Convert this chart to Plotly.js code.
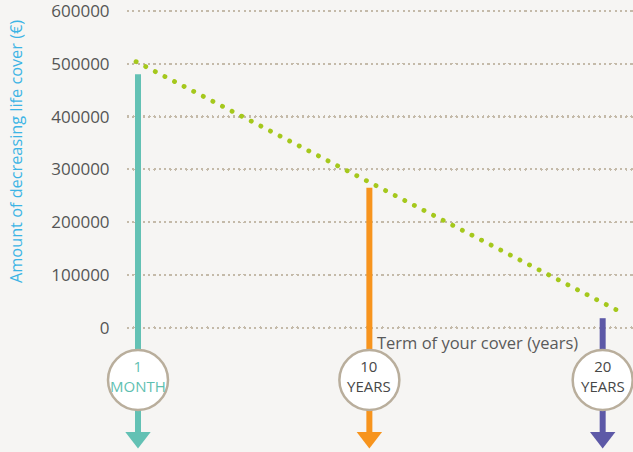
<!DOCTYPE html>
<html>
<head>
<meta charset="utf-8">
<script src="https://cdn.plot.ly/plotly-3.0.1.min.js"></script>
<style>
  html, body { margin: 0; padding: 0; background: #f6f5f3; }
  #chart { width: 633px; height: 452px; }
  .scatterlayer .trace:first-child .js-line { stroke-linecap: round; }
  .gridlayer .ygrid { stroke-linecap: round; }
</style>
</head>
<body>
<div id="chart"></div>
<script>
// ---- data ----
const termYears   = [1 / 12, 10, 20];
const termNumbers = ['1', '10', '20'];
const termUnits   = ['MONTH', 'YEARS', 'YEARS'];
const termColors  = ['#63c1b4', '#f7941d', '#5d59a7'];
const coverAtTerm = [480000, 265000, 18000];

const lineYears  = [0, 20.6];
const lineCover  = [504000, 33500];

const yTicks = [0, 100000, 200000, 300000, 400000, 500000, 600000];
const yTickText = yTicks.map(String);

// ---- layout helpers (pixel -> data for decorative elements) ----
const Y_TOP = 620840, Y_BOT = -235500, H = 452;
const pxToY = px => Y_TOP - px * (Y_TOP - Y_BOT) / H;
const circleY = pxToY(380);
const shaftEndY = pxToY(434);
const headY = pxToY(437.5);

const traces = [];
// green decreasing cover line (first trace -> round caps via CSS)
traces.push({
  x: lineYears, y: lineCover, mode: 'lines', type: 'scatter',
  line: { color: '#a5c81c', width: 4.8, dash: '0.1px,10.7px' },
  hoverinfo: 'skip', cliponaxis: false
});
// arrow shafts
termYears.forEach((t, i) => {
  traces.push({
    x: [t, t], y: [coverAtTerm[i], shaftEndY], mode: 'lines', type: 'scatter',
    line: { color: termColors[i], width: 6 }, hoverinfo: 'skip', cliponaxis: false
  });
});
// arrow heads
traces.push({
  x: termYears, y: termYears.map(() => headY), mode: 'markers', type: 'scatter',
  marker: { symbol: 'triangle-down', size: 22, color: termColors, line: { width: 0 } },
  hoverinfo: 'skip', cliponaxis: false
});
// circles
traces.push({
  x: termYears, y: termYears.map(() => circleY), mode: 'markers', type: 'scatter',
  marker: { symbol: 'circle', size: 60, color: '#ffffff', line: { color: '#b9ae9c', width: 2.5 } },
  hoverinfo: 'skip', cliponaxis: false
});

const annotations = [];
termYears.forEach((t, i) => {
  const c = i === 0 ? '#5fbfb1' : '#474747';
  annotations.push({ x: t, y: circleY, xref: 'x', yref: 'y',
    text: termNumbers[i] + '<br>' + termUnits[i], showarrow: false, align: 'center',
    yshift: 4, font: { family: 'Open Sans', size: 15, color: c } });
});
annotations.push({ x: 19.03, y: 0, xref: 'x', yref: 'y', text: 'Term of your cover (years)',
  showarrow: false, yshift: -15, xanchor: 'right', font: { family: 'Open Sans', size: 16.5, color: '#5a5a5a' }});
annotations.push({ x: -0.2475, y: pxToY(152), xref: 'paper', yref: 'y', text: 'Amount of decreasing life cover (€)',
  showarrow: false, textangle: -90, font: { family: 'Open Sans', size: 16.3, color: '#3cb4e5' }});

const layout = {
  width: 633, height: 452,
  margin: { l: 128, r: 0, t: 0, b: 0, pad: 0 },
  paper_bgcolor: '#f6f5f3', plot_bgcolor: '#f6f5f3',
  showlegend: false,
  xaxis: { range: [-0.3455, 21.30], showgrid: false, zeroline: false, showticklabels: false, showline: false, fixedrange: true },
  yaxis: {
    range: [Y_BOT, Y_TOP], tickmode: 'array', tickvals: yTicks, ticktext: yTickText,
    showgrid: true, gridcolor: '#c4baa9', gridwidth: 2.5, griddash: '0.1px,5.2px',
    zeroline: false, showline: false, ticks: 'outside', ticklen: 14, tickcolor: 'rgba(0,0,0,0)',
    ticklabeloverflow: 'allow',
    tickfont: { family: 'Open Sans', size: 17, color: '#555555' }, fixedrange: true
  },
  annotations: annotations
};

Plotly.newPlot('chart', traces, layout, { displayModeBar: false, staticPlot: true });
</script>
</body>
</html>
